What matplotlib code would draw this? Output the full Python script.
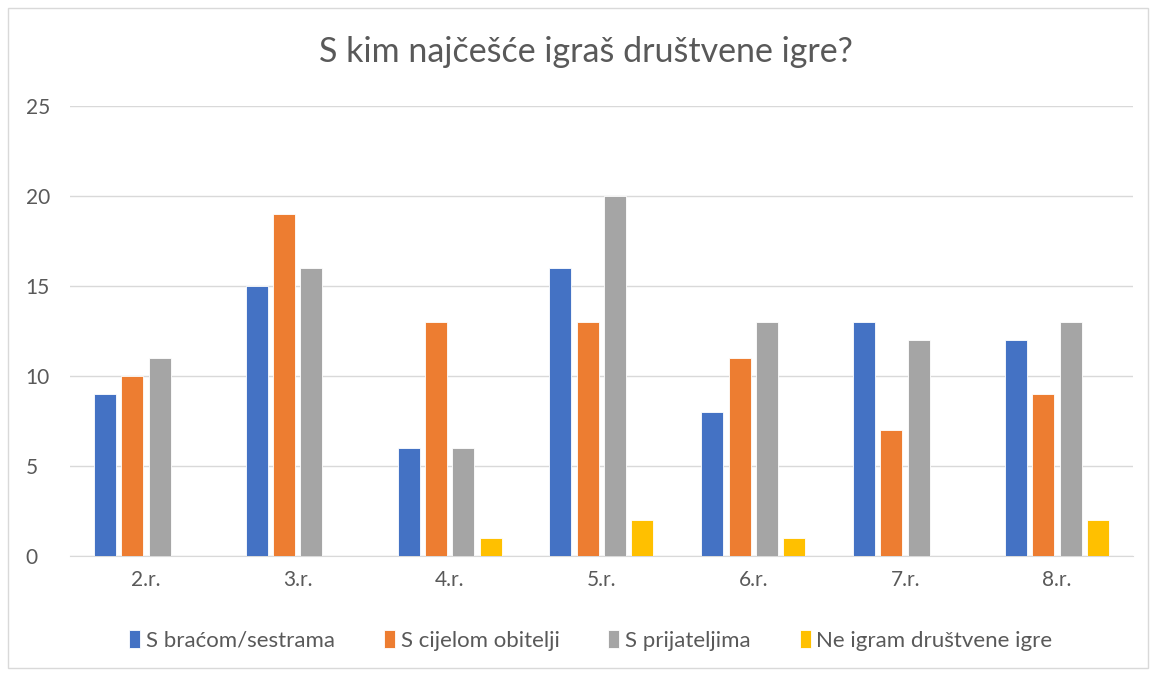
import numpy as np
import matplotlib.pyplot as plt
from matplotlib.patches import Rectangle

plt.rcParams['font.family'] = ['Lato', 'DejaVu Sans']

razredi = ['2.r.', '3.r.', '4.r.', '5.r.', '6.r.', '7.r.', '8.r.']
serije = ['S braćom/sestrama', 'S cijelom obitelji', 'S prijateljima', 'Ne igram društvene igre']
brat_sestre = [9, 15, 6, 16, 8, 13, 12]
obitelj = [10, 19, 13, 13, 11, 7, 9]
prijatelji = [11, 16, 6, 20, 13, 12, 13]
ne_igram = [0, 0, 1, 2, 1, 0, 2]
boje = ['#4472C4', '#ED7D31', '#A5A5A5', '#FFC000']

fig = plt.figure(figsize=(11.54, 6.73), dpi=100)
ax = fig.add_axes([0.0607, 0.1738, 0.921, 0.6687])

x = np.arange(len(razredi))
korak = 0.18
sirina = 0.145
for i, (vals, lab) in enumerate(zip([brat_sestre, obitelj, prijatelji, ne_igram], serije)):
    ax.bar(x + (i - 1.5) * korak, vals, width=sirina, color=boje[i], label=lab,
           edgecolor='white', linewidth=0.6, zorder=3)

ax.set_xlim(-0.5, len(razredi) - 0.5)
ax.set_ylim(0, 25)
ax.set_yticks(range(0, 26, 5))
ax.set_xticks(x)
ax.set_xticklabels(razredi)
ax.grid(axis='y', color='#D9D9D9', linewidth=1, zorder=0)
for s in ['top', 'right', 'left']:
    ax.spines[s].set_visible(False)
ax.spines['bottom'].set_color('#D9D9D9')
ax.tick_params(length=0, labelsize=15, colors='#595959', pad=10)
ax.tick_params(axis='y', pad=32)
for t in ax.get_yticklabels():
    t.set_horizontalalignment('left')

fig.text(0.508, 0.922, 'S kim najčešće igraš društvene igre?', ha='center', va='center',
         fontsize=24.5, color='#595959')

ax.legend(loc='center', bbox_to_anchor=(0.49, -0.187), ncol=4, frameon=False,
          fontsize=16, labelcolor='#595959', handlelength=0.5, handleheight=0.9,
          handletextpad=0.25, columnspacing=2.2)

fig.patches.append(Rectangle((0.007, 0.008), 0.988, 0.98, transform=fig.transFigure,
                             fill=False, edgecolor='#D9D9D9', linewidth=1))

plt.savefig('out.png', dpi=100)
